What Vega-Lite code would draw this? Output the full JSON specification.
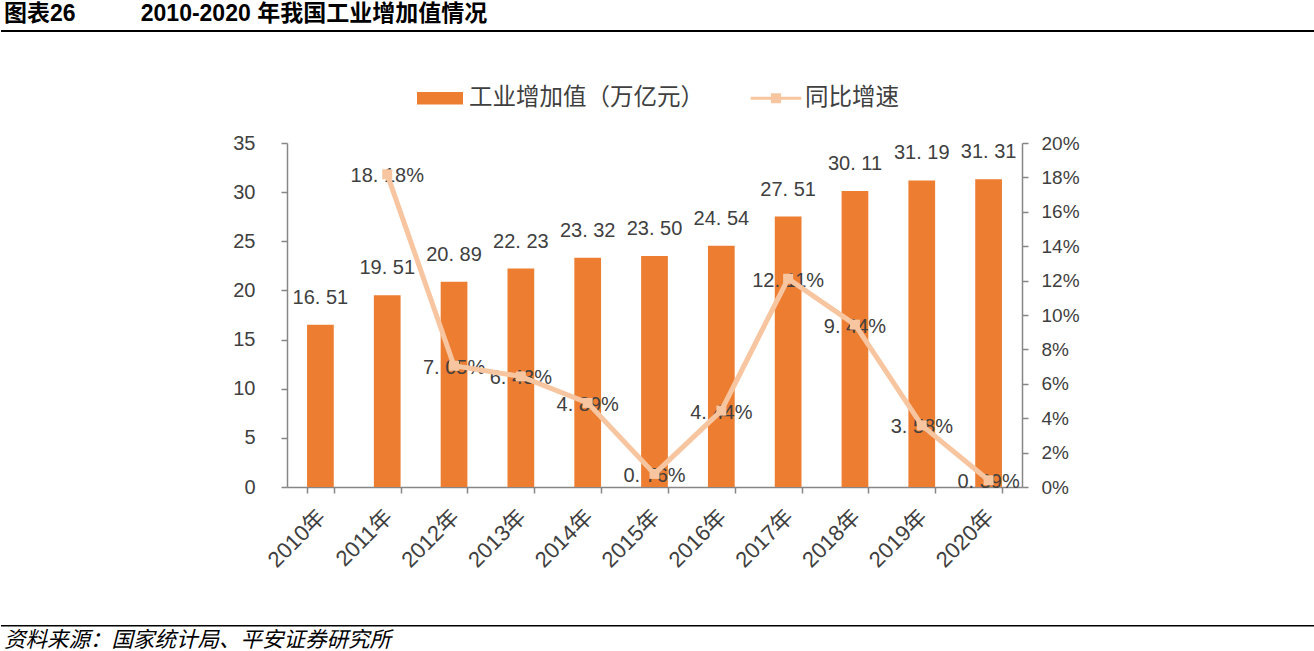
{
  "$schema": "https://vega.github.io/schema/vega-lite/v6.json",
  "padding": {"top": 3, "left": 0, "right": 0, "bottom": 0},
  "spacing": 43,
  "config": {"view": {"stroke": null}, "font": "Liberation Sans"},
  "resolve": {"scale": {"color": "independent"}, "legend": {"color": "independent"}},
  "vconcat": [
    {
      "width": 1314,
      "height": 2,
      "view": {"fill": "#000000", "stroke": null},
      "title": {"text": "图表26\u3000\u3000\u00a0\u00a0\u00a02010-2020 年我国工业增加值情况", "anchor": "start", "font": "Liberation Sans, Noto Sans CJK SC", "fontSize": 23, "fontWeight": "bold", "color": "#000000", "offset": 4, "dx": 3},
      "data": {"values": []},
      "mark": "point",
      "encoding": {}
    },
    {
      "width": 1021,
      "height": 344,
      "data": {
        "values": [
          {"year": "2010年", "value": 16.51, "valueLabel": "16. 51", "growth": null, "growthLabel": null},
          {"year": "2011年", "value": 19.51, "valueLabel": "19. 51", "growth": 0.1818, "growthLabel": "18. 18%"},
          {"year": "2012年", "value": 20.89, "valueLabel": "20. 89", "growth": 0.0705, "growthLabel": "7. 05%"},
          {"year": "2013年", "value": 22.23, "valueLabel": "22. 23", "growth": 0.0643, "growthLabel": "6. 43%"},
          {"year": "2014年", "value": 23.32, "valueLabel": "23. 32", "growth": 0.0489, "growthLabel": "4. 89%"},
          {"year": "2015年", "value": 23.50, "valueLabel": "23. 50", "growth": 0.0076, "growthLabel": "0. 76%"},
          {"year": "2016年", "value": 24.54, "valueLabel": "24. 54", "growth": 0.0444, "growthLabel": "4. 44%"},
          {"year": "2017年", "value": 27.51, "valueLabel": "27. 51", "growth": 0.1211, "growthLabel": "12. 11%"},
          {"year": "2018年", "value": 30.11, "valueLabel": "30. 11", "growth": 0.0944, "growthLabel": "9. 44%"},
          {"year": "2019年", "value": 31.19, "valueLabel": "31. 19", "growth": 0.0358, "growthLabel": "3. 58%"},
          {"year": "2020年", "value": 31.31, "valueLabel": "31. 31", "growth": 0.0039, "growthLabel": "0. 39%"}
        ]
      },
      "encoding": {
        "x": {
          "field": "year", "type": "nominal", "sort": null, "title": null,
          "scale": {"paddingInner": 0.6, "range": [286, 1021]},
          "axis": {"tickBand": "extent", "labelAngle": -45, "labelFontSize": 22, "labelFont": "Liberation Sans, Noto Sans CJK SC", "labelColor": "#404040", "domainColor": "#868686", "domainWidth": 1.5, "tickColor": "#868686", "tickWidth": 1.5, "tickSize": 6, "labelPadding": 13, "labelOffset": -6, "labelOverlap": false, "minExtent": 95, "maxExtent": 95}
        }
      },
      "layer": [
        {
          "layer": [
            {
              "mark": {"type": "bar"},
              "encoding": {
                "y": {
                  "field": "value", "type": "quantitative", "title": null,
                  "scale": {"domain": [0, 35]},
                  "axis": {"offset": -286, "values": [0, 5, 10, 15, 20, 25, 30, 35], "grid": false, "labelFlush": false, "labelOverlap": false, "labelFontSize": 20, "labelColor": "#404040", "domainColor": "#868686", "domainWidth": 1.5, "tickColor": "#868686", "tickWidth": 1.5, "tickSize": 6, "labelPadding": 26}
                },
                "color": {
                  "datum": "工业增加值（万亿元）", "type": "nominal",
                  "scale": {"domain": ["工业增加值（万亿元）", "同比增速"], "range": ["#ED7D31", "#F7C59F"]},
                  "legend": {
                    "orient": "none", "legendX": 416, "legendY": -68, "direction": "horizontal", "title": null,
                    "labelFontSize": 23.5, "labelFont": "Noto Sans CJK SC", "labelColor": "#404040", "labelLimit": 500,
                    "symbolSize": 2116, "columnPadding": 46, "labelOffset": 6, "symbolStrokeWidth": 0,
                    "encode": {
                      "symbols": {
                        "update": {
                          "shape": {"signal": "datum.value === '同比增速' ? 'M-1.1,-0.065H-0.22V-0.22H0.22V-0.065H1.1V0.065H0.22V0.22H-0.22V0.065H-1.1Z' : 'M-1,-0.27H1V0.27H-1Z'"},
                          "fill": {"signal": "datum.value === '同比增速' ? '#F7C59F' : '#ED7D31'"},
                          "opacity": {"value": 1},
                          "strokeWidth": {"value": 0}
                        }
                      }
                    }
                  }
                }
              }
            },
            {
              "mark": {"type": "text", "fontSize": 20, "color": "#404040", "baseline": "middle", "dy": -27},
              "encoding": {
                "y": {"field": "value", "type": "quantitative"},
                "text": {"field": "valueLabel"}
              }
            }
          ]
        },
        {
          "layer": [
            {
              "mark": {"type": "text", "fontSize": 20, "color": "#404040", "baseline": "middle", "dy": 2},
              "encoding": {
                "y": {
                  "field": "growth", "type": "quantitative", "title": null,
                  "scale": {"domain": [0, 0.2]},
                  "axis": {"orient": "right", "values": [0, 0.02, 0.04, 0.06, 0.08, 0.1, 0.12, 0.14, 0.16, 0.18, 0.2], "tickCount": 11, "format": ".0%", "grid": false, "labelFlush": false, "labelOverlap": false, "labelFontSize": 19, "labelColor": "#404040", "domainColor": "#868686", "domainWidth": 1.5, "tickColor": "#868686", "tickWidth": 1.5, "tickSize": 6, "labelPadding": 13}
                },
                "text": {"field": "growthLabel"}
              }
            },
            {
              "mark": {"type": "line", "strokeWidth": 5, "point": {"shape": "square", "size": 100, "filled": true, "opacity": 1}},
              "encoding": {
                "y": {
                  "field": "growth", "type": "quantitative", "title": null,
                  "axis": {"orient": "right", "values": [0, 0.02, 0.04, 0.06, 0.08, 0.1, 0.12, 0.14, 0.16, 0.18, 0.2], "tickCount": 11, "format": ".0%", "grid": false, "labelFlush": false, "labelOverlap": false, "labelFontSize": 19, "labelColor": "#404040", "domainColor": "#868686", "domainWidth": 1.5, "tickColor": "#868686", "tickWidth": 1.5, "tickSize": 6, "labelPadding": 13}
                },
                "color": {"datum": "同比增速", "type": "nominal"}
              }
            }
          ]
        }
      ],
      "resolve": {"scale": {"y": "independent"}}
    },
    {
      "width": 1314,
      "height": 1.5,
      "view": {"fill": "#000000", "stroke": null},
      "title": {"text": "资料来源：国家统计局、平安证券研究所", "orient": "bottom", "anchor": "start", "font": "Noto Sans CJK SC", "fontSize": 21.5, "fontStyle": "italic", "fontWeight": "normal", "color": "#000000", "offset": 3, "dx": 3},
      "data": {"values": []},
      "mark": "point",
      "encoding": {}
    }
  ]
}
